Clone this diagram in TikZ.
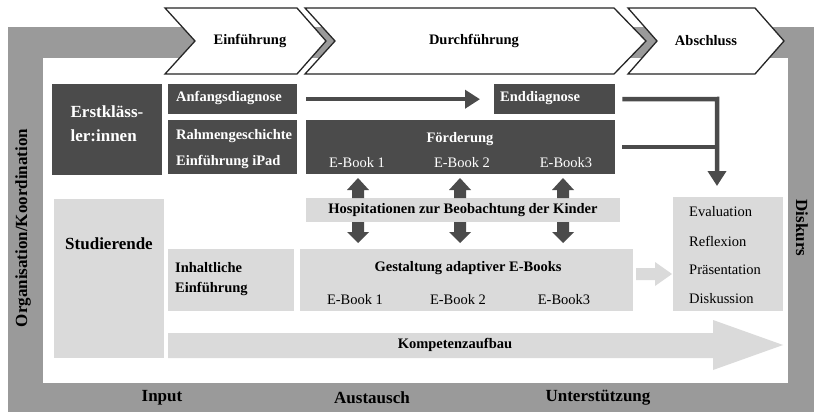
\documentclass[tikz,border=0pt]{standalone}
\usepackage{fontspec}
\setmainfont{Liberation Serif}
\usetikzlibrary{positioning,arrows.meta}
\definecolor{framegray}{HTML}{9A9A9A}
\definecolor{darkgray}{HTML}{4B4B4B}
\definecolor{lightgray}{HTML}{DADADA}
\begin{document}
\begin{tikzpicture}[x=1pt,y=-1pt,
    darkbox/.style={fill=darkgray, inner sep=0pt, anchor=north west},
    lightbox/.style={fill=lightgray, inner sep=0pt, anchor=north west},
    chevron/.style={fill=white, draw=black!85, line width=1.3pt},
    phase/.style={font=\fontsize{14.5}{16}\selectfont\bfseries},
    wbold/.style={text=white, font=\fontsize{14.5}{16}\selectfont\bfseries, inner sep=0pt},
    wplain/.style={text=white, font=\fontsize{14.5}{16}\selectfont, inner sep=0pt},
    bbold/.style={font=\fontsize{14.5}{16}\selectfont\bfseries, inner sep=0pt},
    bplain/.style={font=\fontsize{14.5}{16}\selectfont, inner sep=0pt},
    biglabel/.style={font=\fontsize{17}{19}\selectfont\bfseries, inner sep=0pt},
    darkline/.style={draw=darkgray, line width=4.5pt},
    darkarrow/.style={darkline, -{Triangle[length=15pt,width=18pt]}}]
    \useasboundingbox (0,0) rectangle (814,412);
    % frame
    \fill[framegray] (8,27) rectangle (814,412);
    \fill[white] (43,58) rectangle (788,383);
    \node[biglabel, rotate=90] (orga) at (23,228) {Organisation/Koordination};
    \node[biglabel, rotate=-90] (diskurs) at (802,228) {Diskurs};
    \node[biglabel] (input) at (162,398) {Input};
    \node[biglabel] (austausch) at (372,398) {Austausch};
    \node[biglabel] (unterst) at (598,398) {Unterstützung};
    % phases
    \draw[chevron] (165,8) -- (297,8) -- (326,41) -- (297,74) -- (165,74) -- (195,41) -- cycle;
    \draw[chevron] (305,8) -- (614,8) -- (646,41) -- (614,74) -- (305,74) -- (335,41) -- cycle;
    \draw[chevron] (628,8) -- (755,8) -- (784,41) -- (755,74) -- (628,74) -- (657,41) -- cycle;
    \node[phase] (einf) at (250,41) {Einführung};
    \node[phase] (durch) at (474,41) {Durchführung};
    \node[phase] (abschl) at (706,41) {Abschluss};
    % Erstklaessler:innen
    \node[darkbox, minimum width=110pt, minimum height=91pt] (erst) at (52,84) {};
    \node[text=white, font=\fontsize{17}{24}\selectfont\bfseries, align=left, inner sep=0pt] (erstlabel) at (107,124) {Erstkläss-\\ler:innen};
    \node[darkbox, minimum width=129pt, minimum height=30pt] (anfang) at (168,84) {};
    \node[wbold, anchor=west] (anfanglabel) at (176,98) {Anfangsdiagnose};
    \node[darkbox, minimum width=129pt, minimum height=54pt] (rahmen) at (168,120) {};
    \node[wbold, anchor=west] (rahmenlabel) at (176,136) {Rahmengeschichte};
    \node[wbold, anchor=west] (ipadlabel) at (176,162) {Einführung iPad};
    \node[darkbox, minimum width=121pt, minimum height=30pt] (end) at (494,84) {};
    \node[wbold, anchor=west] (endlabel) at (500,98) {Enddiagnose};
    \node[darkbox, minimum width=309pt, minimum height=54pt] (foerd) at (306,120) {};
    \node[wbold] (foerdlabel) at (460,139) {Förderung};
    \node[wplain] (fbook1) at (357,163) {E-Book 1};
    \node[wplain] (fbook2) at (462,163) {E-Book 2};
    \node[wplain] (fbook3) at (566,163) {E-Book3};
    \draw[darkarrow, shorten <=9pt, shorten >=14pt] (anfang.east) -- (end.west);
    % Studierende
    \node[lightbox, minimum width=110pt, minimum height=159pt] (stud) at (54,199) {};
    \node[biglabel] (studlabel) at (109,244) {Studierende};
    \node[lightbox, minimum width=314pt, minimum height=24pt] (hosp) at (306,198) {};
    \node[bbold] (hosplabel) at (463,210) {Hospitationen zur Beobachtung der Kinder};
    \node[lightbox, minimum width=126pt, minimum height=62pt] (inhalt) at (168,249) {};
    \node[bbold, anchor=west] (inhaltlabel1) at (175,268) {Inhaltliche};
    \node[bbold, anchor=west] (inhaltlabel2) at (175,289) {Einführung};
    \node[lightbox, minimum width=333pt, minimum height=62pt] (gestalt) at (300,249) {};
    \node[bbold] (gestaltlabel) at (468,268) {Gestaltung adaptiver E-Books};
    \node[bplain] (gbook1) at (355,300) {E-Book 1};
    \node[bplain] (gbook2) at (458,300) {E-Book 2};
    \node[bplain] (gbook3) at (564,300) {E-Book3};
    \node[lightbox, minimum width=110pt, minimum height=114pt] (eval) at (673,197) {};
    \node[bplain, anchor=west] (evallabel) at (689,212) {Evaluation};
    \node[bplain, anchor=west] (reflabel) at (689,241) {Reflexion};
    \node[bplain, anchor=west] (praeslabel) at (689,270) {Präsentation};
    \node[bplain, anchor=west] (disklabel) at (689,299) {Diskussion};
    % block arrows
    \foreach \c in {358,460,563} {
        \fill[darkgray] (\c-6,198) -- (\c-6,190) -- (\c-11,190) -- (\c,178) -- (\c+11,190) -- (\c+6,190) -- (\c+6,198) -- cycle;
        \fill[darkgray] (\c-6,222) -- (\c-6,232) -- (\c-11,232) -- (\c,243) -- (\c+11,232) -- (\c+6,232) -- (\c+6,222) -- cycle;
    }
    \fill[lightgray] (636,268) -- (655,268) -- (655,262) -- (672,274) -- (655,286) -- (655,280) -- (636,280) -- cycle;
    % Kompetenzaufbau
    \fill[lightgray] (168,333) -- (713,333) -- (713,320) -- (783,345) -- (713,370) -- (713,358) -- (168,358) -- cycle;
    \node[bbold] (kompetenz) at (455,345) {Kompetenzaufbau};
    % to evaluation
    \coordinate (knee) at (717,99);
    \draw[darkline] ([xshift=7pt]foerd.east) -- (foerd.east -| knee);
    \draw[darkarrow, shorten <=7pt, shorten >=11pt] (end.east) -- (knee) -- (knee |- eval.north);
\end{tikzpicture}
\end{document}
